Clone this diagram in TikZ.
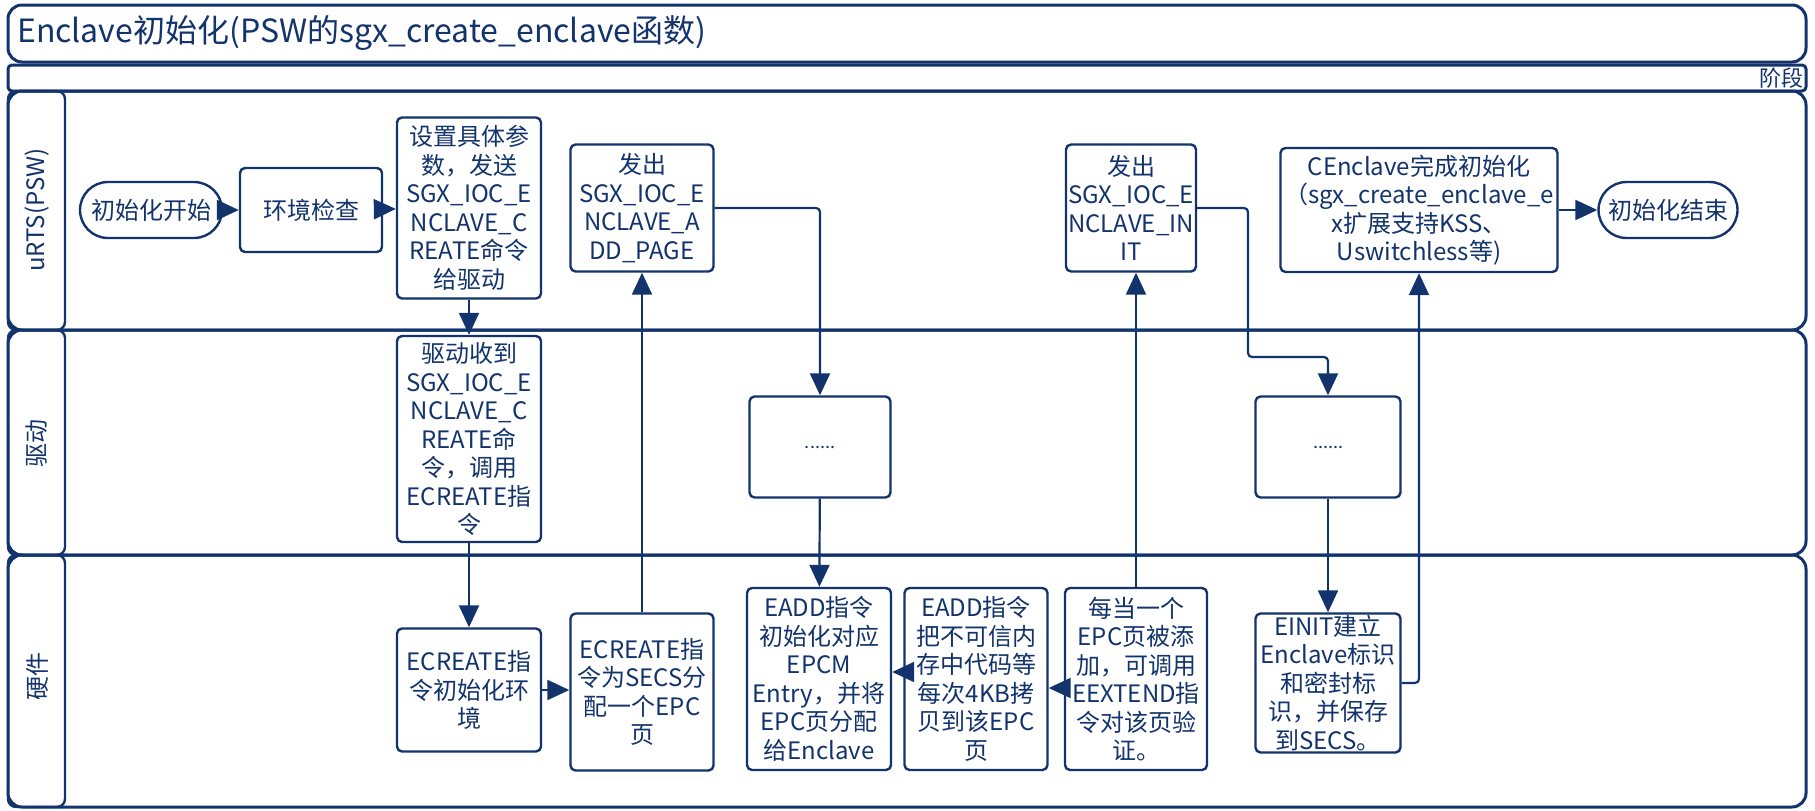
\documentclass[tikz,border=0pt]{standalone}
\usepackage{fontspec}
\setmainfont{Noto Sans CJK SC}
\usetikzlibrary{shapes.misc, arrows.meta, positioning, calc}
\definecolor{navy}{HTML}{12336C}

\begin{document}
\begin{tikzpicture}[x=1pt, y=-1pt, line join=round,
	every node/.style={text=navy},
	lane/.style={draw=navy, line width=3pt, rounded corners=14pt},
	lanehead/.style={draw=navy, line width=2.4pt, rounded corners=8pt},
	procbox/.style={draw=navy, line width=2.4pt, rounded corners=5pt, align=center, inner sep=1pt, minimum width=144pt, font=\fontsize{24}{28.5}\selectfont},
	termbox/.style={draw=navy, line width=2.4pt, rounded rectangle, minimum width=146pt, minimum height=56pt, inner sep=2pt, font=\fontsize{24}{28.5}\selectfont},
	flow/.style={draw=navy, line width=2.2pt, rounded corners=4pt, -{Triangle[length=22pt,width=20pt]}}]
			\useasboundingbox (0,0) rectangle (1815,811);
			
			\draw[lane] (8,5) rectangle (1806,62);
			\draw[lane, rounded corners=4pt] (8,65) rectangle (1806,91);
			\draw[lane] (8,91) rectangle (1806,330);
			\draw[lane] (8,330) rectangle (1806,555);
			\draw[lane] (8,555) rectangle (1806,807);
			\draw[lanehead] (8,91) rectangle (65,330);
			\draw[lanehead] (8,330) rectangle (65,555);
			\draw[lanehead] (8,555) rectangle (65,807);
			
			\node[anchor=west, inner sep=0pt, font=\fontsize{32}{36}\selectfont] (title) at (17,33) {Enclave初始化(PSW的sgx\_create\_enclave函数)};
			\node[anchor=east, inner sep=1pt, font=\fontsize{22}{24}\selectfont] (phase) at (1805,78) {阶段};
			
			\node[rotate=90, font=\fontsize{24}{26}\selectfont] (laneurts) at (37,210) {uRTS(PSW)};
			\node[rotate=90, font=\fontsize{24}{26}\selectfont] (lanedrv) at (37,443) {驱动};
			\node[rotate=90, font=\fontsize{24}{26}\selectfont] (lanehw) at (37,676) {硬件};
			
			\node[termbox] (start) at (151,210) {初始化开始};
			\node[procbox, minimum width=142pt, minimum height=84pt] (env) at (311,210) {环境检查};
			\node[procbox, minimum height=181pt] (setup) at (469,208) {设置具体参\\数，发送\\SGX\_IOC\_E\\NCLAVE\_C\\REATE命令\\给驱动};
			\node[procbox, minimum width=143pt, minimum height=127pt] (addpage) at (642,208) {发出\\SGX\_IOC\_E\\NCLAVE\_A\\DD\_PAGE};
			\node[procbox, minimum width=130pt, minimum height=127pt] (init) at (1131,208) {发出\\SGX\_IOC\_E\\NCLAVE\_IN\\IT};
			\node[procbox, minimum width=277pt, minimum height=124pt] (cenclave) at (1419,210) {CEnclave完成初始化\\（sgx\_create\_enclave\_e\\x扩展支持KSS、\\Uswitchless等)};
			\node[termbox, minimum width=143pt] (end) at (1668,210) {初始化结束};
			
			\node[procbox, minimum height=206pt] (recv) at (469,439) {驱动收到\\SGX\_IOC\_E\\NCLAVE\_C\\REATE命\\令，调用\\ECREATE指\\令};
			\node[procbox, minimum width=141pt, minimum height=101pt, font=\fontsize{18}{20}\selectfont] (dotsadd) at (820,447) {......};
			\node[procbox, minimum width=145pt, minimum height=101pt, font=\fontsize{18}{20}\selectfont] (dotsinit) at (1328,447) {......};
			
			\node[procbox, minimum height=123pt] (ecinit) at (469,690) {ECREATE指\\令初始化环\\境};
			\node[procbox, minimum width=143pt, minimum height=157pt] (secs) at (642,692) {ECREATE指\\令为SECS分\\配一个EPC\\页};
			\node[procbox, minimum height=182pt] (eaddinit) at (819,679) {EADD指令\\初始化对应\\EPCM\\Entry，并将\\EPC页分配\\给Enclave};
			\node[procbox, minimum width=143pt, minimum height=182pt] (eaddcopy) at (976,679) {EADD指令\\把不可信内\\存中代码等\\每次4KB拷\\贝到该EPC\\页};
			\node[procbox, minimum width=142pt, minimum height=182pt] (eext) at (1136,679) {每当一个\\EPC页被添\\加，可调用\\EEXTEND指\\令对该页验\\证。};
			\node[procbox, minimum width=145pt, minimum height=139pt] (einit) at (1328,683) {EINIT建立\\Enclave标识\\和密封标\\识，并保存\\到SECS。};
			
			\coordinate (bendinit) at (1248,357);
			
			\draw[flow] (start) -- (env);
			\draw[flow] (env) -- (setup);
			\draw[flow] (setup) -- (recv);
			\draw[flow] (recv) -- (ecinit);
			\draw[flow] (ecinit.east) -- (ecinit.east -| secs.west);
			\draw[flow] (secs.north) -- (addpage.south);
			\draw[flow] (addpage.east) -| (dotsadd.north);
			\draw[flow] (dotsadd) -- (eaddinit);
			\draw[flow] ([yshift=7pt]eaddcopy.west) -- ([yshift=7pt]eaddinit.east);
			\draw[flow] ([yshift=-9pt]eext.west) -- ([yshift=-9pt]eaddcopy.east);
			\draw[flow] (eext.north) -- (eext.north |- init.south);
			\draw[flow] (init.east) -| (bendinit) -| (dotsinit.north);
			\draw[flow] (dotsinit) -- (einit);
			\draw[flow] (einit.east) -| (cenclave.south);
			\draw[flow] (cenclave) -- (end);
		\end{tikzpicture}
\end{document}
